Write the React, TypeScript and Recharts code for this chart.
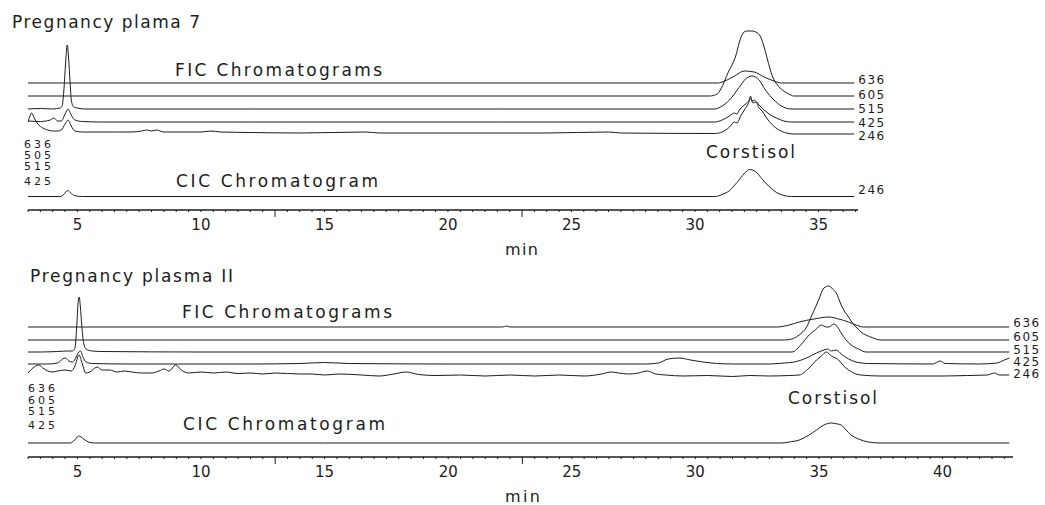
import { LineChart, Line, XAxis, YAxis } from "recharts";

type Pt = [number, number];

// retention time (min) , trace height above its own baseline (px of the original plot)

// ---------- Pregnancy plama 7 ----------
const P7_636: Pt[] = [
  [3.0, 0], [10, 0], [20, 0], [30.9, 0], [31.3, 3], [31.6, 7], [32.0, 12], [32.4, 11],
  [32.8, 6], [33.2, 2], [33.5, 0], [36.45, 0],
];
const P7_605: Pt[] = [
  [3.0, 0], [12, 0], [22, 0], [30.6, 0], [30.9, 2], [31.05, 7], [31.2, 15], [31.35, 24],
  [31.5, 31], [31.65, 40], [31.8, 54], [31.95, 63], [32.1, 65], [32.3, 65], [32.46, 64],
  [32.66, 59], [32.8, 49], [32.93, 37], [33.13, 20], [33.34, 11], [33.54, 6], [33.8, 2],
  [34.0, 0], [36.45, 0],
];
const P7_515: Pt[] = [
  [3.0, 0], [3.5, 0.5], [4.0, 0], [4.3, 1], [4.38, 3], [4.45, 18], [4.52, 45], [4.59, 64],
  [4.64, 52], [4.7, 28], [4.76, 8], [4.85, 2], [5.0, 1], [5.3, 0], [12, 0], [22, 0],
  [30.8, 0], [31.1, 3], [31.4, 9], [31.8, 22], [32.05, 30], [32.3, 33], [32.6, 29],
  [32.85, 19], [33.2, 9], [33.5, 3], [33.9, 0], [36.45, 0],
];
const P7_425: Pt[] = [
  [3.0, 1], [3.5, 0.5], [3.9, 2], [4.05, 4], [4.2, 1], [4.35, 1], [4.5, 8], [4.62, 13],
  [4.75, 7], [4.9, 2], [5.2, 0.5], [6, 0], [12, 0], [22, 0], [30.8, 0], [31.1, 2],
  [31.4, 6], [31.6, 9], [31.7, 8], [31.8, 12], [31.95, 16], [32.1, 19], [32.2, 22],
  [32.25, 26], [32.3, 21], [32.4, 22], [32.5, 20], [32.6, 17], [32.8, 12], [33.0, 8],
  [33.3, 4], [33.6, 1], [33.9, 0], [36.45, 0],
];
const P7_246: Pt[] = [
  [3.0, 12], [3.08, 18], [3.15, 21], [3.25, 16], [3.4, 10], [3.6, 6], [3.8, 4], [4.0, 3],
  [4.2, 3], [4.35, 4], [4.5, 10], [4.62, 14], [4.75, 8], [4.9, 3], [5.2, 2], [5.8, 2],
  [6.5, 2], [7.2, 2], [7.6, 3], [7.8, 4], [8.0, 3], [8.2, 4], [8.5, 2], [9.2, 2], [10.0, 2],
  [10.4, 3], [10.8, 2], [12, 1.5], [14, 1], [16.7, 2], [17.2, 1], [20, 1], [24, 1],
  [26.5, 2], [27, 1], [30.8, 0.5], [31.1, 2], [31.4, 7], [31.6, 12], [31.7, 11],
  [31.85, 18], [32.0, 24], [32.15, 30], [32.25, 36], [32.35, 31], [32.45, 32], [32.6, 26],
  [32.75, 22], [32.9, 16], [33.1, 10], [33.4, 4], [33.7, 1], [34, 0], [36.45, 0],
];
const P7_CIC: Pt[] = [
  [3.0, 0], [4.3, 0], [4.45, 2], [4.6, 6], [4.75, 3], [4.95, 0.5], [5.2, 0], [20, 0],
  [30.8, 0], [31.1, 2], [31.4, 6], [31.7, 14], [32.0, 23], [32.2, 27], [32.45, 25],
  [32.7, 18], [33.0, 10], [33.3, 4], [33.6, 1], [33.9, 0], [36.45, 0],
];

// ---------- Pregnancy plasma II ----------
const P11_636: Pt[] = [
  [3.0, 0], [15, 0], [22.2, 0], [22.35, 1], [22.5, 0], [33.3, 0], [33.8, 2], [34.2, 5],
  [34.8, 8], [35.4, 10], [35.8, 8], [36.2, 5], [36.5, 2], [36.8, 0], [42.7, 0],
];
const P11_605: Pt[] = [
  [3.0, 0], [15, 0], [25, 0], [33.6, 0], [33.9, 1], [34.2, 5], [34.5, 13], [34.7, 24],
  [34.9, 35], [35.05, 44], [35.2, 52], [35.4, 54], [35.55, 51], [35.7, 47], [35.9, 35],
  [36.05, 28], [36.2, 23], [36.35, 17], [36.5, 13], [36.7, 8], [36.9, 5], [37.2, 2],
  [37.5, 0], [42.7, 0],
];
const P11_515: Pt[] = [
  [3.0, 0], [3.5, 0], [4.2, 0.5], [4.6, 1], [4.8, 1], [4.9, 4], [4.97, 25], [5.03, 50],
  [5.07, 55], [5.12, 45], [5.18, 25], [5.26, 8], [5.35, 3], [5.6, 1], [6, 0.5], [10, 0],
  [20, 0], [33.9, 0], [34.3, 8], [34.6, 17], [34.85, 22], [35.1, 27], [35.3, 25],
  [35.4, 25], [35.6, 28], [35.75, 25], [35.9, 19], [36.1, 12], [36.3, 7], [36.6, 3],
  [36.9, 0], [42.7, 0],
];
const P11_425: Pt[] = [
  [3.0, 0], [3.8, 0], [4.2, 1], [4.4, 5], [4.52, 6], [4.65, 3], [4.8, 2], [4.95, 7],
  [5.05, 12], [5.13, 13], [5.22, 7], [5.35, 2], [5.6, 0.5], [7, 0], [12, 0], [14, 0.5],
  [15, 1.5], [16, 0.5], [20, 0], [25, 0], [28, 0], [28.5, 1], [28.9, 5], [29.35, 6],
  [29.8, 4], [30.3, 2], [30.9, 0.5], [31.5, 0], [33.0, 0], [33.6, 1], [34.0, 2], [34.5, 6],
  [34.9, 11], [35.2, 14], [35.35, 15], [35.5, 13], [35.7, 14], [35.9, 10], [36.2, 5],
  [36.5, 2], [37.0, 0.5], [39.6, 0], [39.9, 3], [40.1, 0.5], [41.5, 0], [42.2, 1],
  [42.5, 4], [42.7, 6],
];
const P11_246: Pt[] = [
  [3.0, 3], [3.2, 8], [3.44, 11], [3.6, 8], [3.8, 5], [3.97, 4], [4.2, 5], [4.5, 6],
  [4.75, 5], [4.9, 10], [5.06, 21], [5.2, 12], [5.33, 3], [5.5, 4], [5.8, 9], [6.0, 6],
  [6.3, 6], [6.6, 4], [6.9, 5], [7.2, 4], [7.6, 3], [8.0, 3], [8.3, 5], [8.5, 7], [8.7, 5],
  [8.98, 11], [9.2, 6], [9.5, 3], [10.0, 4], [10.5, 3], [11, 4], [11.5, 2.5], [12, 3],
  [12.5, 2], [13, 3], [14, 2], [14.5, 2], [15, 1], [15.6, 2], [16.5, 1], [17.2, 0],
  [17.8, 2], [18.3, 4], [18.8, 1.5], [19.5, 0.5], [20.5, 1], [21.5, 0], [22.5, 1],
  [23.5, 0], [24.5, 1], [25.5, 0], [26.2, 2], [26.6, 4], [26.9, 3], [27.3, 2], [27.7, 3],
  [28.05, 5], [28.4, 2], [28.8, 1], [29.5, 0], [30.5, 0.5], [31.5, -0.5], [32.2, 0.5],
  [33.0, 0], [33.8, 0.5], [34.2, 1], [34.6, 8], [34.9, 16], [35.1, 20], [35.3, 24],
  [35.5, 20], [35.8, 16], [36.0, 10], [36.2, 6], [36.5, 2], [36.7, 1], [37.5, 0], [38.5, 0],
  [40, 0], [41, 0.5], [41.8, 1], [42.1, 3], [42.3, 1], [42.7, 1],
];
const P11_CIC: Pt[] = [
  [3.0, 0], [4.7, 0], [4.85, 2], [5.05, 7], [5.25, 4], [5.45, 1], [5.7, 0], [15, 0],
  [33.5, 0], [33.8, 1], [34.2, 3], [34.6, 8], [34.9, 13], [35.2, 18], [35.5, 20],
  [35.75, 19], [35.9, 18], [36.1, 13], [36.3, 8], [36.6, 4], [37.0, 1], [37.5, 0], [42.7, 0],
];

const P7_TICK_LABELS = [5, 10, 15, 20, 25, 30, 35];
const P11_TICK_LABELS = [5, 10, 15, 20, 25, 30, 35, 40];
const LONG_TICKS = [13, 23];
const ION_LABELS = ["636", "605", "515", "425", "246"];
const P7_LEFT_LABELS = ["636", "505", "515", "425"];
const P11_LEFT_LABELS = ["636", "605", "515", "425"];

// ---------- layout ----------
const INK = "#1c1c1c";
const FONT = "'DejaVu Sans', sans-serif";

interface Trace {
  pts: Pt[];
  base: number; // vertical offset of the trace baseline above the time axis
  label?: string;
  labelDy?: number;
}

interface PanelProps {
  top: number;
  height: number;
  plotH: number;
  right: number;
  xMax: number;
  traces: Trace[];
  tickLabels: number[];
}

function AxisTick({ x, y, payload, tickLabels }: any) {
  const v = payload.value;
  const isLabel = tickLabels.includes(v);
  const isLong = LONG_TICKS.includes(v);
  return (
    <g>
      <line x1={x} x2={x} y1={y} y2={y + (isLong ? 7 : 2)} stroke={INK} strokeWidth={1} />
      {isLabel && (
        <text x={x} y={y + 20} textAnchor="middle" fontFamily={FONT} fontSize={15} fill={INK}>
          {v}
        </text>
      )}
    </g>
  );
}

function Panel({ top, height, plotH, right, xMax, traces, tickLabels }: PanelProps) {
  const ticks: number[] = [];
  for (let t = 3; t <= xMax; t += 0.5) ticks.push(t);

  return (
    <div style={{ position: "absolute", left: 0, top }}>
      <LineChart width={1045} height={height} margin={{ top: 0, right, left: 28, bottom: 0 }}>
        <XAxis
          type="number"
          dataKey="t"
          domain={[3, xMax]}
          allowDataOverflow
          ticks={ticks}
          interval={0}
          height={height - plotH}
          tickLine={false}
          tickSize={0}
          tickMargin={0}
          axisLine={{ stroke: INK, strokeWidth: 1.4 }}
          tick={<AxisTick tickLabels={tickLabels} />}
        />
        <YAxis hide type="number" domain={[0, plotH]} allowDataOverflow />
        {traces.map((tr, i) => {
          const rows = tr.pts.map(([t, h]) => ({ t, v: tr.base + h }));
          const last = rows.length - 1;
          const endShift = tr.pts[last][1]; // keep the tag on the baseline, not on a trailing bump
          return (
            <Line
              key={i}
              data={rows}
              dataKey="v"
              type="monotone"
              stroke={INK}
              strokeWidth={1}
              dot={false}
              activeDot={false}
              isAnimationActive={false}
              label={(p: any) =>
                tr.label && p.index === last ? (
                  <text
                    key={`lbl-${i}`}
                    x={p.x + 4}
                    y={p.y + endShift + (tr.labelDy ?? 0)}
                    dominantBaseline="central"
                    fontFamily={FONT}
                    fontSize={12}
                    letterSpacing={1.5}
                    fill={INK}
                  >
                    {tr.label}
                  </text>
                ) : (
                  <g key={`lbl-${i}-${p.index}`} />
                )
              }
            />
          );
        })}
      </LineChart>
    </div>
  );
}

function Txt({ x, y, w, size = 17, children }: any) {
  return (
    <text
      x={x}
      y={y}
      fontFamily={FONT}
      fontSize={size}
      fill={INK}
      textLength={w}
      lengthAdjust="spacing"
    >
      {children}
    </text>
  );
}

export default function App() {
  const p7: Trace[] = [
    { pts: P7_636, base: 127, label: ION_LABELS[0], labelDy: -3 },
    { pts: P7_605, base: 114, label: ION_LABELS[1], labelDy: -1 },
    { pts: P7_515, base: 101, label: ION_LABELS[2], labelDy: 0 },
    { pts: P7_425, base: 88, label: ION_LABELS[3], labelDy: 1 },
    { pts: P7_246, base: 76, label: ION_LABELS[4], labelDy: 2 },
    { pts: P7_CIC, base: 13.5, label: ION_LABELS[4], labelDy: -7 },
  ];
  const p11: Trace[] = [
    { pts: P11_636, base: 130, label: ION_LABELS[0], labelDy: -4 },
    { pts: P11_605, base: 117, label: ION_LABELS[1], labelDy: -3 },
    { pts: P11_515, base: 105, label: ION_LABELS[2], labelDy: -2 },
    { pts: P11_425, base: 93, label: ION_LABELS[3], labelDy: -2 },
    { pts: P11_246, base: 81, label: ION_LABELS[4], labelDy: -2 },
    { pts: P11_CIC, base: 14 },
  ];

  return (
    <div
      style={{
        position: "absolute",
        left: 0,
        top: 0,
        width: 1045,
        height: 505,
        background: "#fff",
        overflow: "hidden",
      }}
    >
      <Panel top={0} height={260} plotH={210} right={187} xMax={36.6} traces={p7} tickLabels={P7_TICK_LABELS} />
      <Panel top={260} height={245} plotH={197} right={32} xMax={42.85} traces={p11} tickLabels={P11_TICK_LABELS} />

      <svg
        width={1045}
        height={505}
        style={{ position: "absolute", left: 0, top: 0, pointerEvents: "none" }}
      >
        <Txt x={12} y={28} w={188}>Pregnancy plama 7</Txt>
        <Txt x={175} y={76} w={207}>FIC Chromatograms</Txt>
        <Txt x={176} y={187} w={202}>CIC Chromatogram</Txt>
        <Txt x={706} y={158} w={89}>Corstisol</Txt>
        <Txt x={505} y={255} w={33} size={16}>min</Txt>
        {P7_LEFT_LABELS.map((s, i) => (
          <Txt key={s + i} x={24} y={[148, 159, 170, 185][i]} w={27} size={11}>{s}</Txt>
        ))}

        <Txt x={30} y={282} w={203}>Pregnancy plasma II</Txt>
        <Txt x={182} y={318} w={210}>FIC Chromatograms</Txt>
        <Txt x={183} y={430} w={202}>CIC Chromatogram</Txt>
        <Txt x={788} y={404} w={89}>Corstisol</Txt>
        <Txt x={505} y={502} w={35} size={16}>min</Txt>
        {P11_LEFT_LABELS.map((s, i) => (
          <Txt key={s + i} x={28} y={[392, 404, 415, 429][i]} w={27} size={11}>{s}</Txt>
        ))}
      </svg>
    </div>
  );
}
